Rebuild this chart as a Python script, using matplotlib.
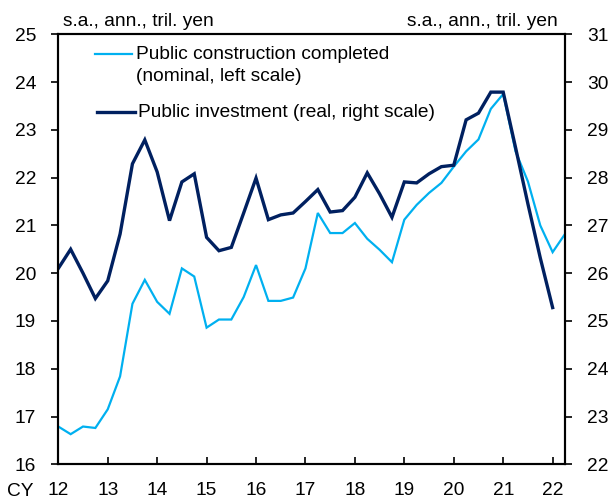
import matplotlib
matplotlib.use("Agg")
import matplotlib.pyplot as plt
import numpy as np

# ---------------------------------------------------------------------
# Data (quarterly, CY2012 Q1 onwards)
# ---------------------------------------------------------------------

START_YEAR = 2012

# Public construction completed, nominal, left scale (2012Q1-2022Q2)
construction = [
    16.79, 16.63, 16.79, 16.76, 17.15, 17.84, 19.36, 19.86, 19.40, 19.15,
    20.10, 19.93, 18.86, 19.03, 19.03, 19.50, 20.17, 19.42, 19.42, 19.49,
    20.10, 21.26, 20.84, 20.84, 21.05, 20.72, 20.49, 20.23, 21.12, 21.43,
    21.68, 21.89, 22.23, 22.55, 22.80, 23.44, 23.75, 22.55, 21.92, 21.00,
    20.44, 20.82,
]

# Public investment, real, right scale (2012Q1-2022Q1)
investment = [
    26.10, 26.50, 26.00, 25.47, 25.84, 26.82, 28.29, 28.79, 28.12, 27.10,
    27.91, 28.08, 26.75, 26.47, 26.54, 27.26, 27.99, 27.12, 27.22, 27.26,
    27.50, 27.75, 27.28, 27.31, 27.59, 28.10, 27.66, 27.17, 27.91, 27.89,
    28.08, 28.23, 28.26, 29.21, 29.35, 29.79, 29.79, 28.63, 27.45, 26.32,
    25.28,
]

year_ticks = list(range(2012, 2023))
year_labels = [str(y % 100) for y in year_ticks]
left_ticks = list(range(16, 26))
right_ticks = list(range(22, 32))

LABEL_CONSTR = "Public construction completed"
LABEL_CONSTR_2 = "(nominal, left scale)"
LABEL_INVEST = "Public investment (real, right scale)"
UNIT = "s.a., ann., tril. yen"

LIGHT = "#00B0F0"
DARK = "#002060"

# ---------------------------------------------------------------------
# Plot
# ---------------------------------------------------------------------

plt.rcParams["font.family"] = ["Liberation Sans", "DejaVu Sans"]
FS = 13.8

fig = plt.figure(figsize=(6.11, 5.01), dpi=100)
ax = fig.add_axes([0.0954, 0.0733, 0.8293, 0.8582])
ax2 = ax.twinx()

x_c = START_YEAR + np.arange(len(construction)) / 4
x_i = START_YEAR + np.arange(len(investment)) / 4

ax.plot(x_c, construction, color=LIGHT, lw=1.6, solid_joinstyle="miter", zorder=3)
ax2.plot(x_i, investment, color=DARK, lw=2.4, solid_joinstyle="miter", zorder=2)

ax.set_xlim(2012, 2022.25)
ax.set_ylim(16, 25)
ax2.set_ylim(22, 31)

ax.set_xticks(year_ticks)
ax.set_xticklabels(year_labels)
ax.set_yticks(left_ticks)
ax2.set_yticks(right_ticks)

for a in (ax, ax2):
    for s in a.spines.values():
        s.set_linewidth(1.5)
        s.set_color("black")

ax.tick_params(axis="x", direction="in", length=5, width=1.2, pad=13, labelsize=FS)
ax.tick_params(axis="y", direction="out", length=5, width=1.2, pad=11, labelsize=FS)
ax2.tick_params(axis="y", direction="out", length=5, width=1.2, pad=11, labelsize=FS)

# "CY" prefix before first year label
ax.text(-0.048, -0.0635, "CY", transform=ax.transAxes, ha="right", va="center",
        fontsize=FS)

# unit labels
ax.text(0.009, 1.019, UNIT, transform=ax.transAxes, ha="left", va="baseline",
        fontsize=FS)
ax.text(0.986, 1.019, UNIT, transform=ax.transAxes, ha="right", va="baseline",
        fontsize=FS)

# legend drawn by hand (first label wraps onto a second line)
ax.plot([0.0724, 0.1455], [0.954, 0.954], transform=ax.transAxes,
        color=LIGHT, lw=1.6, clip_on=False)
ax.text(0.153, 0.954, LABEL_CONSTR, transform=ax.transAxes, ha="left",
        va="center", fontsize=FS)
ax.text(0.153, 0.903, LABEL_CONSTR_2, transform=ax.transAxes, ha="left",
        va="center", fontsize=FS)
ax.plot([0.076, 0.151], [0.819, 0.819], transform=ax.transAxes,
        color=DARK, lw=2.4, clip_on=False)
ax.text(0.157, 0.819, LABEL_INVEST, transform=ax.transAxes, ha="left",
        va="center", fontsize=FS)

fig.savefig("out.png", dpi=100)
